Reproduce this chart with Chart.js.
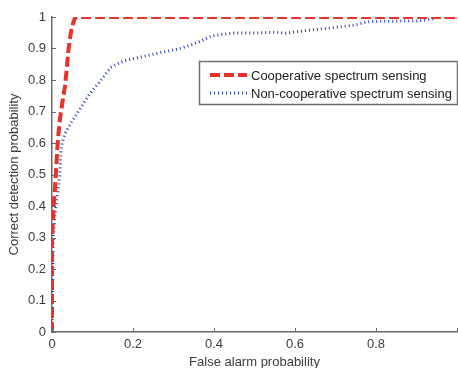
<!DOCTYPE html>
<html>
<head>
<meta charset="utf-8">
<script src="https://cdn.jsdelivr.net/npm/chart.js@4/dist/chart.umd.min.js"></script>
<style>
    html, body { margin: 0; padding: 0; background: #fff; overflow: hidden; }
    #wrap { width: 462px; height: 368px; }
</style>
</head>
<body>
<div id="wrap"><canvas id="rocChart" width="462" height="368"></canvas></div>
<script>
// Cooperative spectrum sensing (false alarm -> detection)
const coopX = [0, 0, 0.002, 0.004, 0.007, 0.01, 0.013, 0.016, 0.02, 0.027, 0.032, 0.036, 0.04, 0.044, 0.048, 0.052, 0.056, 0.06, 1];
const coopY = [0, 0.3, 0.35, 0.4, 0.45, 0.51, 0.58, 0.63, 0.68, 0.74, 0.78, 0.83, 0.89, 0.93, 0.96, 0.98, 0.995, 1, 1];

// Non-cooperative spectrum sensing
const nonCoopX = [0, 0.003, 0.007, 0.012, 0.017, 0.02, 0.022, 0.025, 0.032, 0.045, 0.06, 0.075, 0.095, 0.115, 0.13, 0.145, 0.16, 0.18, 0.21, 0.25, 0.28, 0.31, 0.34, 0.37, 0.395, 0.42, 0.45, 0.5, 0.55, 0.58, 0.6, 0.65, 0.7, 0.75, 0.78, 0.8, 0.85, 0.9, 0.92, 0.935, 0.945, 0.95, 1];
const nonCoopY = [0, 0.3, 0.37, 0.42, 0.47, 0.52, 0.57, 0.6, 0.63, 0.66, 0.69, 0.72, 0.76, 0.79, 0.815, 0.84, 0.85, 0.862, 0.87, 0.882, 0.89, 0.898, 0.91, 0.925, 0.94, 0.945, 0.949, 0.949, 0.952, 0.948, 0.953, 0.96, 0.967, 0.975, 0.985, 0.986, 0.987, 0.987, 0.99, 0.992, 0.997, 1, 1];

const seriesLabels = ['Cooperative spectrum sensing', 'Non-cooperative spectrum sensing'];
const xLabel = 'False alarm probability';
const yLabel = 'Correct detection probability';

const FONT = '"Liberation Sans", Arial, sans-serif';
const AXIS_COLOR = '#6a6a6a';
const TEXT_COLOR = '#3c3c3c';

function toPoints(xs, ys) {
    return xs.map((x, i) => ({ x: x, y: ys[i] }));
}

function fmt(v) {
    return String(Number(v.toFixed(1)));
}

// MATLAB style inward tick marks
const innerTicks = {
    id: 'innerTicks',
    afterDatasetsDraw(chart) {
        const ctx = chart.ctx;
        const area = chart.chartArea;
        const xs = chart.scales.x, ys = chart.scales.y;
        ctx.save();
        ctx.strokeStyle = AXIS_COLOR;
        ctx.lineWidth = 1;
        xs.ticks.forEach(t => {
            const px = Math.round(xs.getPixelForValue(t.value)) + 0.5;
            ctx.beginPath();
            ctx.moveTo(px, area.bottom);
            ctx.lineTo(px, area.bottom - 4);
            ctx.stroke();
        });
        ys.ticks.forEach(t => {
            const py = Math.round(ys.getPixelForValue(t.value)) + 0.5;
            ctx.beginPath();
            ctx.moveTo(area.left, py);
            ctx.lineTo(area.left + 4, py);
            ctx.stroke();
        });
        ctx.restore();
    }
};

// Boxed legend inside the plot
const boxLegend = {
    id: 'boxLegend',
    afterDraw(chart) {
        const ctx = chart.ctx;
        const box = { x: 199.5, y: 61.5, w: 258, h: 43 };
        ctx.save();
        ctx.fillStyle = '#fff';
        ctx.fillRect(box.x, box.y, box.w, box.h);
        ctx.strokeStyle = '#707070';
        ctx.lineWidth = 1.5;
        ctx.strokeRect(box.x, box.y, box.w, box.h);
        ctx.font = '13px ' + FONT;
        ctx.textBaseline = 'middle';
        chart.data.datasets.forEach((ds, i) => {
            const y = 75 + i * 18;
            ctx.beginPath();
            ctx.strokeStyle = ds.borderColor;
            ctx.lineWidth = ds.borderWidth;
            ctx.setLineDash(ds.borderDash);
            ctx.moveTo(210, y);
            ctx.lineTo(247, y);
            ctx.stroke();
            ctx.setLineDash([]);
            ctx.fillStyle = '#222';
            ctx.fillText(ds.label, 251, y + 1);
        });
        ctx.restore();
    }
};

new Chart(document.getElementById('rocChart'), {
    type: 'line',
    data: {
        datasets: [{
            label: seriesLabels[0],
            data: toPoints(coopX, coopY),
            borderColor: '#e8322a',
            borderWidth: 4,
            borderDash: [10, 4],
            pointRadius: 0,
            tension: 0,
            fill: false,
            clip: 0
        }, {
            label: seriesLabels[1],
            data: toPoints(nonCoopX, nonCoopY),
            borderColor: '#3040b8',
            borderWidth: 3,
            borderDash: [1, 3],
            pointRadius: 0,
            tension: 0,
            fill: false,
            clip: 0
        }]
    },
    options: {
        responsive: false,
        animation: false,
        devicePixelRatio: 1,
        layout: { padding: { top: 17, right: 0, left: 0, bottom: 0 } },
        plugins: {
            legend: { display: false },
            tooltip: { enabled: false }
        },
        scales: {
            x: {
                type: 'linear',
                min: 0,
                max: 1,
                afterFit: function(scale) { scale.height = 36; },
                border: { display: true, color: AXIS_COLOR, width: 1.5 },
                grid: { display: false, drawTicks: false },
                ticks: {
                    stepSize: 0.2,
                    padding: 5,
                    color: TEXT_COLOR,
                    font: { family: FONT, size: 13 },
                    maxRotation: 0,
                    callback: function(value) {
                        return value >= 1 ? '' : fmt(value);
                    }
                },
                title: {
                    display: true,
                    text: xLabel,
                    color: TEXT_COLOR,
                    font: { family: FONT, size: 13 },
                    padding: { top: 0, bottom: -2 }
                }
            },
            y: {
                type: 'linear',
                min: 0,
                max: 1,
                afterFit: function(scale) { scale.width = 52; },
                border: { display: true, color: AXIS_COLOR, width: 1.5 },
                grid: { display: false, drawTicks: false },
                ticks: {
                    stepSize: 0.1,
                    padding: 6,
                    color: TEXT_COLOR,
                    font: { family: FONT, size: 13 },
                    callback: function(value) {
                        return fmt(value);
                    }
                },
                title: {
                    display: true,
                    text: yLabel,
                    color: TEXT_COLOR,
                    font: { family: FONT, size: 13 },
                    padding: { top: 7, bottom: 0 }
                }
            }
        }
    },
    plugins: [innerTicks, boxLegend]
});
</script>
</body>
</html>
